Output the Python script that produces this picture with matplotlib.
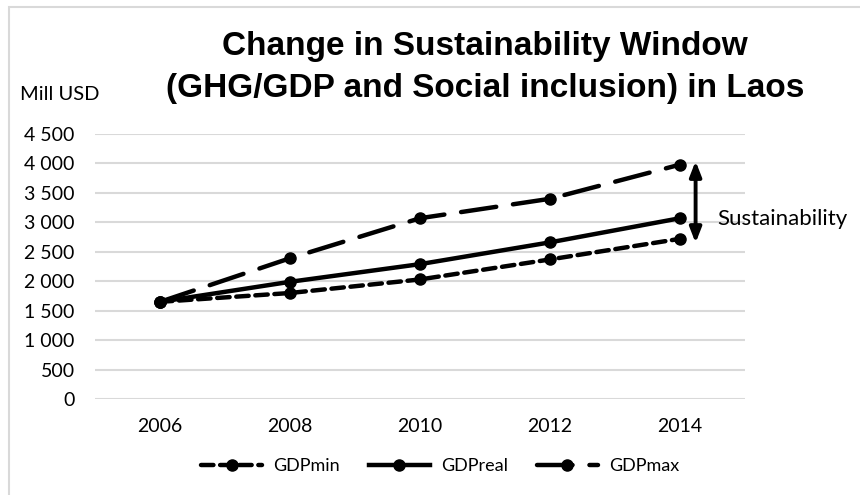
import matplotlib
matplotlib.use("Agg")
import matplotlib.pyplot as plt
from matplotlib.patches import Rectangle

years = ["2006", "2008", "2010", "2012", "2014"]
gdp_min = [1650, 1800, 2030, 2370, 2720]
gdp_real = [1650, 1990, 2290, 2660, 3070]
gdp_max = [1650, 2390, 3070, 3400, 3980]
y_ticks = [0, 500, 1000, 1500, 2000, 2500, 3000, 3500, 4000, 4500]
y_tick_labels = ["0", "500", "1 000", "1 500", "2 000", "2 500",
                 "3 000", "3 500", "4 000", "4 500"]

body_font = "Lato"
title_font = "Liberation Sans"

fig = plt.figure(figsize=(8.6, 4.95), dpi=100)
fig.patch.set_facecolor("white")

# light chart-area frame
fig.add_artist(Rectangle((9 / 860, -0.1), 1.2, 1 - 7 / 495 + 0.1,
                         transform=fig.transFigure, fill=False,
                         edgecolor="#d9d9d9", linewidth=1.5))

ax = fig.add_axes([95 / 860, 1 - 399 / 495, 650 / 860, 265 / 495])
x = list(range(len(years)))

lw = 3.2
ms = 8
ax.plot(x, gdp_min, color="black", lw=lw, marker="o", ms=ms,
        dashes=(2.8, 1.5), label="GDPmin", dash_capstyle="round", zorder=3)
ax.plot(x, gdp_real, color="black", lw=lw, marker="o", ms=ms,
        label="GDPreal", zorder=3)
ax.plot(x, gdp_max, color="black", lw=lw, marker="o", ms=ms,
        dashes=(8.0, 3.8), label="GDPmax", dash_capstyle="round", zorder=3)

ax.set_xlim(-0.5, len(years) - 0.5)
ax.set_ylim(0, 4500)
ax.set_xticks(x)
ax.set_xticklabels(years, fontsize=14, family=body_font)
ax.set_yticks(y_ticks)
ax.set_yticklabels(y_tick_labels, fontsize=14, family=body_font)
ax.tick_params(length=0)
ax.tick_params(axis="y", pad=14.5)
ax.tick_params(axis="x", pad=14)
ax.grid(axis="y", color="#d9d9d9", lw=1.5)
ax.set_axisbelow(True)
for s in ax.spines.values():
    s.set_visible(False)

# sustainability window arrow at the last year
ax.annotate("", xy=(4.12, gdp_max[-1] + 60), xytext=(4.12, gdp_min[-1] - 70),
            arrowprops=dict(arrowstyle="<|-|>,head_length=0.9,head_width=0.35",
                            color="black", lw=2.8, shrinkA=0, shrinkB=0),
            annotation_clip=False)
ax.text(4.29, gdp_real[-1] - 15, "Sustainability", fontsize=16,
        family=body_font, va="center", ha="left")

fig.text(485 / 860, 1 - 55 / 495, "Change in Sustainability Window",
         ha="center", va="baseline", fontsize=24, fontweight="bold",
         family=title_font)
fig.text(485 / 860, 1 - 97 / 495, "(GHG/GDP and Social inclusion) in Laos",
         ha="center", va="baseline", fontsize=24, fontweight="bold",
         family=title_font)
fig.text(20 / 860, 1 - 100 / 495, "Mill USD", fontsize=14.5, family=body_font,
         ha="left", va="baseline")

fig.legend(loc="center", bbox_to_anchor=(440 / 860, 1 - 466 / 495),
           ncol=3, frameon=False, handlelength=3.4, columnspacing=1.6,
           prop={"family": body_font, "size": 13}, handletextpad=0.6)

fig.savefig("out.png", dpi=100, facecolor="white")
